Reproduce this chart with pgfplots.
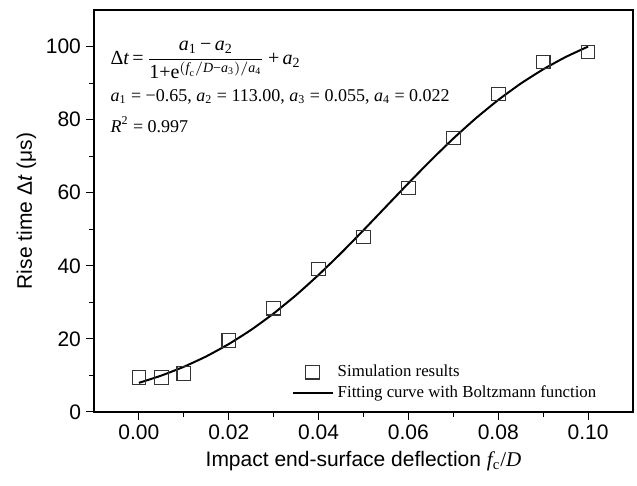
\documentclass[border=0pt]{standalone}
\usepackage{amsmath}
\usepackage{fontspec}
\setmainfont{Liberation Sans}
\newfontfamily\tnr{Liberation Serif}
\usepackage{pgfplots}
\pgfplotsset{compat=1.18}
\pgfplotsset{
  legmark/.style={legend image code/.code={\draw[mark repeat=2, mark phase=2, ##1] plot coordinates {(0pt,0pt) (10pt,0pt) (20pt,0pt)};}},
  legline/.style={legend image code/.code={\draw[##1] (0pt,0pt) -- (20pt,0pt);}},
}
\newcommand{\mi}[1]{\text{\tnr\itshape #1}}
\newcommand{\mr}[1]{\text{\tnr #1}}
\newcommand{\ai}[1]{{\itshape a}\textsubscript{#1}}
\begin{document}
\begin{tikzpicture}
\begin{axis}[
  name=ax,
  scale only axis,
  width=269.5pt, height=201pt,
  xmin=-0.01, xmax=0.11, ymin=0, ymax=110,
  xtick={0,0.02,0.04,0.06,0.08,0.10},
  ytick={0,20,40,60,80,100},
  minor x tick num=1, minor y tick num=1,
  tick align=outside,
  xtick pos=bottom, ytick pos=left,
  major tick length=4pt, minor tick length=2.5pt,
  tick style={black, line width=0.5pt},
  axis line style={line width=0.6pt},
  x tick label style={yshift=1pt, /pgf/number format/.cd, fixed, fixed zerofill, precision=2, assume math mode=true},
  y tick label style={xshift=1pt, /pgf/number format/assume math mode=true},
  tick label style={font=\fontsize{10.5}{12}\selectfont},
  scaled x ticks=false,
  xlabel={Impact end-surface deflection {\tnr\itshape f}\textsubscript{\tnr c}{\tnr /}{\tnr\itshape D}},
  ylabel={Rise time Δ\textit{t} (μs)},
  label style={font=\fontsize{10.5}{12}\selectfont},
  xlabel style={yshift=1.2pt},
  ylabel style={yshift=-2pt},
  legend style={draw=none, fill=none, font=\tnr\fontsize{8.4}{9}\selectfont,
    at={(rel axis cs:0.355,0.008)}, anchor=south west, row sep=-1pt},
  legend cell align=left,
]
\addplot[only marks, mark=square, mark size=3.4pt, mark options={draw=black!80, line width=0.55pt}, legmark]
coordinates {
(0,9.4) (0.005,9.5) (0.01,10.6) (0.02,19.6) (0.03,28.4) (0.04,39.1)
(0.05,47.9) (0.06,61.3) (0.07,75.0) (0.08,87.0) (0.09,95.8) (0.10,98.5)
};
\addlegendentry{Simulation results}
\addplot[black, line width=1pt, smooth, tension=0.3, legline] coordinates {
(0,7.97) (0.005,9.97) (0.01,12.37) (0.015,15.22) (0.02,18.59) (0.025,22.49)
(0.03,26.97) (0.035,31.99) (0.04,37.52) (0.045,43.48) (0.05,49.75) (0.055,56.18)
(0.06,62.60) (0.065,68.87) (0.07,74.83) (0.075,80.36) (0.08,85.38) (0.085,89.86)
(0.09,93.76) (0.095,97.13) (0.10,99.99)
};
\addlegendentry{Fitting curve with Boltzmann function}
\node[anchor=west, inner sep=0pt, font=\tnr\fontsize{10}{12}\selectfont] at (rel axis cs:0.03,0.875)
 {$\mr{Δ}\mi{t}\,\mr{=}\,\dfrac{\mi{a}_{\mr{1}}\,\mr{−}\,\mi{a}_{\mr{2}}}{\mr{1}\mr{+}\mr{e}^{(\mi{f}_{\mr{c}}/\mi{D}\mr{−}\mi{a}_{\mr{3}})/\mi{a}_{\mr{4}}}}\,\mr{+}\,\mi{a}_{\mr{2}}$};
\node[anchor=west, inner sep=0pt, font=\tnr\fontsize{9}{11}\selectfont] at (rel axis cs:0.03,0.784)
 {\ai{1} = −0.65, \ai{2} = 113.00, \ai{3} = 0.055, \ai{4} = 0.022};
\node[anchor=west, inner sep=0pt, font=\tnr\fontsize{9}{11}\selectfont] at (rel axis cs:0.03,0.715)
 {{\itshape R}\textsuperscript{2} = 0.997};
\end{axis}
\path (ax.south west) ++(-47pt,-37pt);
\path (ax.north east) ++(2pt,5pt);
\end{tikzpicture}
\end{document}
